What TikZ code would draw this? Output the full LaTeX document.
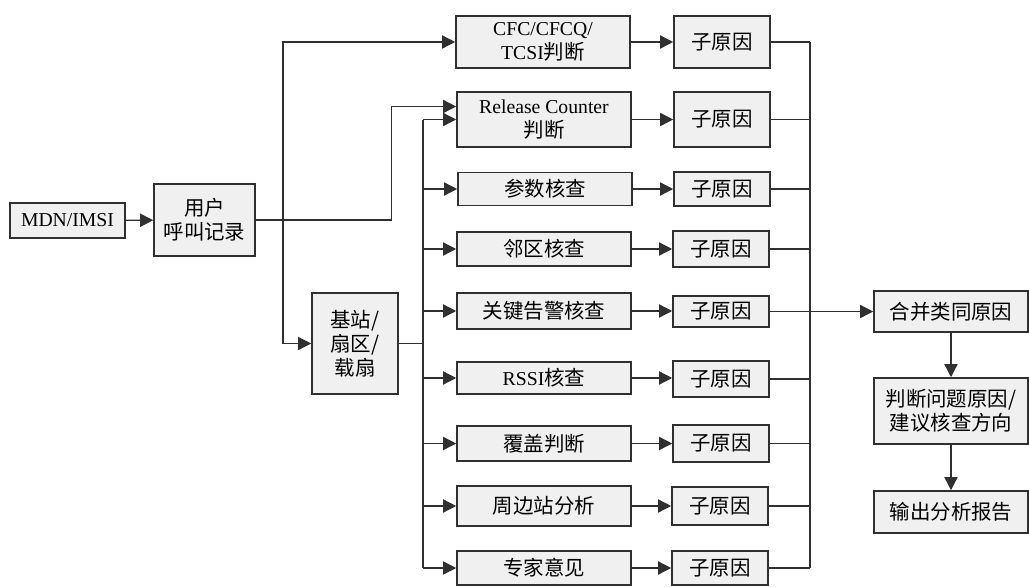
\documentclass[tikz,border=0pt]{standalone}
\usepackage{fontspec}
\setmainfont{Liberation Serif}
\newfontfamily\cjk[Scale=1.04]{Noto Sans CJK SC}
\usepackage{tikz}
\usetikzlibrary{positioning}
\usetikzlibrary{calc}
\usetikzlibrary{arrows.meta}
\definecolor{boxgray}{HTML}{F0F0F0}
\definecolor{linegray}{HTML}{303030}
\tikzset{
    % Solid triangular heads, as on every connector
    >={Triangle[length=3.3mm, width=3.3mm]},
%
    % Every box shares the same outline and light fill
    flow box/.style={
        draw=linegray, line width=1.1pt, fill=boxgray,
        inner sep=0, align=center,
        font=\fontsize{14}{17}\selectfont},
%
    % Boxes of the check column
    check box/.style={flow box, minimum width=43.5mm},
    % Boxes of the sub-cause column
    cause box/.style={flow box, minimum width=24mm},
    % Boxes of the result column
    result box/.style={flow box, minimum width=38.5mm},
%
    % Plain connector lines
    flow line/.style={draw=linegray, line width=1pt}}

\begin{document}
\begin{tikzpicture}[x=0.25mm, y=-0.25mm]

% Page frame

\path % [draw, thick]
    (0,0) rectangle (1029,586);

% Inputs

\node [flow box, minimum width=28.75mm, minimum height=8.75mm]
    (mdn) at (67.5,220.5) {MDN/IMSI};
\node [flow box, minimum width=25.25mm, minimum height=18mm]
    (rec) at (204.5,220) {\cjk 用户\\\cjk 呼叫记录};
\node [flow box, minimum width=21.5mm, minimum height=25.25mm]
    (bs) at (355,343.5) {\cjk 基站/\\\cjk 扇区/\\\cjk 载扇};

% Check column

\node [check box, minimum height=13mm] (chk1) at (543,42)
    {CFC/CFCQ/\\TCSI{\cjk 判断}};
\node [check box, minimum height=13.75mm] (chk2) at (544,119.5)
    {Release Counter\\{\cjk 判断}};
\node [check box, minimum height=8.25mm] (chk3) at (545,189) {\cjk 参数核查};
\node [check box, minimum height=8.5mm] (chk4) at (544,249) {\cjk 邻区核查};
\node [check box, minimum height=9mm] (chk5) at (544,311) {\cjk 关键告警核查};
\node [check box, minimum height=8mm] (chk6) at (544,378) {RSSI{\cjk 核查}};
\node [check box, minimum height=8.75mm] (chk7) at (544,443.5) {\cjk 覆盖判断};
\node [check box, minimum height=10mm] (chk8) at (544,506) {\cjk 周边站分析};
\node [check box, minimum height=8.5mm] (chk9) at (544,568) {\cjk 专家意见};

% Sub-cause column

\node [cause box, minimum height=13mm] (cause1) at (722,42) {\cjk 子原因};
\node [cause box, minimum height=13.75mm] (cause2) at (722,119.5) {\cjk 子原因};
\node [cause box, minimum height=8.5mm] (cause3) at (722,189) {\cjk 子原因};
\node [cause box, minimum height=9mm] (cause4) at (721,249) {\cjk 子原因};
\node [cause box, minimum height=7.75mm] (cause5) at (721,311.5) {\cjk 子原因};
\node [cause box, minimum height=9mm] (cause6) at (721,379) {\cjk 子原因};
\node [cause box, minimum height=9.25mm] (cause7) at (721,443.5) {\cjk 子原因};
\node [cause box, minimum height=9.5mm] (cause8) at (720,506) {\cjk 子原因};
\node [cause box, minimum height=8.5mm] (cause9) at (720,568) {\cjk 子原因};

% Result column

\node [result box, minimum height=10.25mm] (merge) at (951,311.5)
    {\cjk 合并类同原因};
\node [result box, minimum height=16.5mm] (judge) at (951,411)
    {\cjk 判断问题原因/\\\cjk 建议核查方向};
\node [result box, minimum height=10.5mm] (report) at (951,512)
    {\cjk 输出分析报告};

% Bus positions

\coordinate (lbus) at (283,0);
\coordinate (cbus) at (423,0);
\coordinate (rbus) at (810,0);

% Left part

\draw [flow line, ->] (mdn) -- (rec);
\draw [flow line, ->] (rec.east)
    -| ($(chk2.west)+(-65,-13)$) -- ($(chk2.west)+(0,-13)$);
\draw [flow line, <->] (chk1.west) -| (lbus |- bs.west) -- (bs.west);

\draw [flow line] (bs.east) -- (cbus |- bs.east);
\draw [flow line] (cbus |- chk2.west) -- (cbus |- chk9.west);
\draw [flow line, ->] (cbus |- chk2.west) -- (chk2.west);
\draw [flow line, ->] (cbus |- chk3.west) -- (chk3.west);
\draw [flow line, ->] (cbus |- chk4.west) -- (chk4.west);
\draw [flow line, ->] (cbus |- chk5.west) -- (chk5.west);
\draw [flow line, ->] (cbus |- chk6.west) -- (chk6.west);
\draw [flow line, ->] (cbus |- chk7.west) -- (chk7.west);
\draw [flow line, ->] (cbus |- chk8.west) -- (chk8.west);
\draw [flow line, ->] (cbus |- chk9.west) -- (chk9.west);

% Checks to sub-causes

\draw [flow line, ->] (chk1.east) -- (chk1.east -| cause1.west);
\draw [flow line, ->] (chk2.east) -- (chk2.east -| cause2.west);
\draw [flow line, ->] (chk3.east) -- (chk3.east -| cause3.west);
\draw [flow line, ->] (chk4.east) -- (chk4.east -| cause4.west);
\draw [flow line, ->] (chk5.east) -- (chk5.east -| cause5.west);
\draw [flow line, ->] (chk6.east) -- (chk6.east -| cause6.west);
\draw [flow line, ->] (chk7.east) -- (chk7.east -| cause7.west);
\draw [flow line, ->] (chk8.east) -- (chk8.east -| cause8.west);
\draw [flow line, ->] (chk9.east) -- (chk9.east -| cause9.west);

% Sub-causes gathered on the right

\draw [flow line] (cause1.east) -- (rbus |- cause1.east);
\draw [flow line] (cause2.east) -- (rbus |- cause2.east);
\draw [flow line] (cause3.east) -- (rbus |- cause3.east);
\draw [flow line] (cause4.east) -- (rbus |- cause4.east);
\draw [flow line] (cause5.east) -- (rbus |- cause5.east);
\draw [flow line] (cause6.east) -- (rbus |- cause6.east);
\draw [flow line] (cause7.east) -- (rbus |- cause7.east);
\draw [flow line] (cause8.east) -- (rbus |- cause8.east);
\draw [flow line] (cause9.east) -- (rbus |- cause9.east);
\draw [flow line] (rbus |- cause1.east) -- (rbus |- cause9.east);

\draw [flow line, ->] (rbus |- merge.west) -- (merge.west);
\draw [flow line, ->] (merge) -- (judge);
\draw [flow line, ->] (judge) -- (report);

\end{tikzpicture}
\end{document}
